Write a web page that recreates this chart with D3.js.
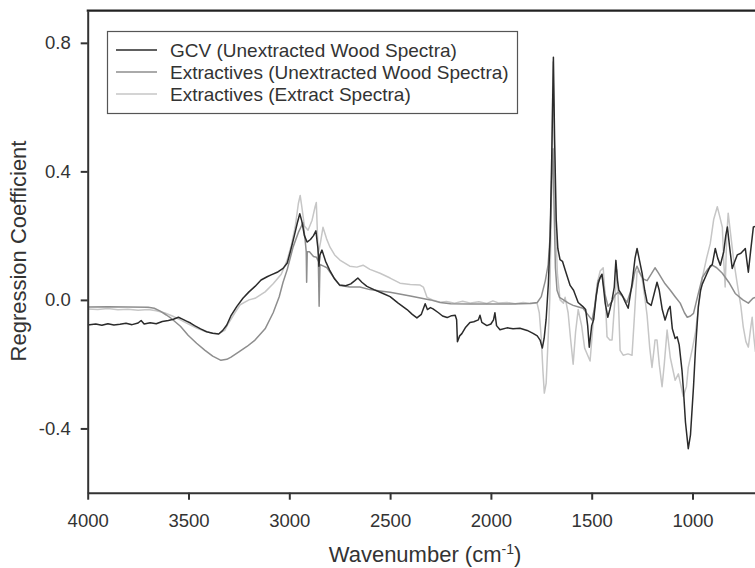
<!DOCTYPE html>
<html>
  <head>
    <meta charset="utf-8">
    <title>Regression coefficients</title>
    <script src="https://cdnjs.cloudflare.com/ajax/libs/d3/7.8.5/d3.min.js"></script>
    <style>
      body { margin: 0; background: #fff; }
      svg { display: block; font-family: "Liberation Sans", Arial, sans-serif; }
      .axis text { font-size: 18.5px; fill: #333; }
      .axis path, .axis line { stroke: #333; stroke-width: 2px; }
      .plot { fill: none; stroke-width: 1.5px; stroke-linejoin: round; }
      .gcv { stroke: #2b2b2b; }
      .wood { stroke: #8e8e8e; }
      .extract { stroke: #c6c6c6; }
      .title { font-size: 22px; fill: #333; }
      .legendText { font-size: 19px; fill: #333; }
    </style>
  </head>
  <body>
    <svg id="chart" width="755" height="568">
      <defs>
        <clipPath id="plotClip"><rect id="clipRect"></rect></clipPath>
      </defs>
      <g id="chartGroup" clip-path="url(#plotClip)"></g>
      <g id="axes">
        <line id="topBorder"></line>
        <g id="xAxisGroup" class="axis"></g>
        <g id="yAxisGroup" class="axis"></g>
      </g>
      <g id="legend"></g>
    </svg>
    <script>
      // series: [wavenumber, coefficient]
      var gcvData = [
        [4000,-0.078],[3960,-0.075],[3930,-0.079],[3900,-0.074],[3870,-0.078],[3840,-0.076],[3810,-0.073],[3780,-0.077],
        [3750,-0.072],[3735,-0.064],[3720,-0.075],[3690,-0.071],[3660,-0.074],[3630,-0.067],[3600,-0.064],[3575,-0.060],
        [3550,-0.054],[3530,-0.060],[3510,-0.066],[3490,-0.072],[3470,-0.080],[3440,-0.090],[3410,-0.099],[3380,-0.104],
        [3350,-0.106],[3330,-0.095],[3310,-0.078],[3290,-0.050],[3260,-0.020],[3230,0.005],[3200,0.025],[3170,0.042],
        [3140,0.062],[3110,0.072],[3090,0.078],[3060,0.086],[3031,0.098],[3010,0.115],[2995,0.150],[2975,0.200],
        [2960,0.240],[2948,0.268],[2938,0.245],[2925,0.200],[2912,0.180],[2895,0.188],[2880,0.200],[2868,0.215],
        [2858,0.160],[2853,0.105],[2848,0.140],[2838,0.155],[2820,0.120],[2800,0.093],[2775,0.065],[2750,0.046],
        [2720,0.044],[2695,0.050],[2675,0.060],[2660,0.068],[2640,0.055],[2615,0.042],[2580,0.032],[2535,0.020],
        [2500,0.010],[2460,-0.010],[2416,-0.030],[2390,-0.045],[2367,-0.056],[2345,-0.045],[2326,-0.012],[2315,-0.030],
        [2300,-0.024],[2287,-0.028],[2260,-0.040],[2240,-0.050],[2217,-0.055],[2195,-0.049],[2177,-0.048],[2170,-0.062],
        [2166,-0.130],[2155,-0.112],[2144,-0.105],[2125,-0.085],[2104,-0.070],[2085,-0.068],[2062,-0.062],[2054,-0.048],
        [2045,-0.070],[2020,-0.080],[2000,-0.075],[1987,-0.062],[1980,-0.040],[1972,-0.080],[1955,-0.093],[1920,-0.087],
        [1890,-0.090],[1856,-0.088],[1820,-0.095],[1791,-0.104],[1770,-0.112],[1756,-0.125],[1745,-0.150],[1736,-0.120],
        [1726,-0.060],[1715,0.050],[1706,0.200],[1698,0.450],[1690,0.755],[1684,0.500],[1676,0.250],[1668,0.160],
        [1657,0.125],[1645,0.120],[1630,0.090],[1607,0.045],[1590,0.030],[1567,-0.008],[1545,-0.020],[1530,-0.030],
        [1520,-0.080],[1512,-0.147],[1500,-0.080],[1490,-0.060],[1478,0.010],[1468,0.050],[1458,0.070],[1449,0.080],
        [1440,0.030],[1433,-0.010],[1420,-0.054],[1410,-0.030],[1399,0.000],[1388,0.040],[1380,0.123],[1372,0.060],
        [1365,0.030],[1349,0.015],[1335,-0.005],[1319,-0.026],[1300,0.050],[1285,0.130],[1275,0.160],[1262,0.120],
        [1250,0.083],[1237,0.030],[1225,-0.008],[1205,-0.017],[1190,0.020],[1176,0.055],[1165,0.030],[1150,-0.030],
        [1136,-0.063],[1120,-0.030],[1111,-0.020],[1100,-0.090],[1086,-0.120],[1076,-0.115],[1066,-0.140],[1052,-0.220],
        [1045,-0.280],[1035,-0.380],[1021,-0.463],[1010,-0.420],[995,-0.270],[985,-0.150],[971,-0.020],[960,0.030],
        [951,0.050],[930,0.080],[912,0.105],[902,0.110],[887,0.160],[875,0.130],[862,0.108],[845,0.150],
        [835,0.200],[827,0.227],[815,0.160],[803,0.098],[790,0.120],[778,0.140],[760,0.145],[745,0.155],
        [738,0.160],[730,0.120],[723,0.086],[712,0.150],[698,0.227],[680,0.230]
      ];
      var woodData = [
        [4000,-0.022],[3900,-0.021],[3800,-0.022],[3700,-0.023],[3670,-0.026],[3640,-0.035],[3610,-0.047],[3587,-0.057],
        [3540,-0.082],[3502,-0.110],[3460,-0.135],[3418,-0.157],[3380,-0.175],[3339,-0.188],[3310,-0.185],[3289,-0.178],
        [3250,-0.162],[3210,-0.145],[3170,-0.125],[3120,-0.090],[3080,-0.040],[3050,0.010],[3031,0.055],[3010,0.095],
        [2981,0.165],[2955,0.210],[2932,0.240],[2922,0.190],[2916,0.150],[2914,0.055],[2911,0.150],[2900,0.150],
        [2880,0.135],[2865,0.133],[2856,0.120],[2852,-0.020],[2848,0.110],[2830,0.105],[2813,0.100],[2780,0.070],
        [2749,0.045],[2700,0.040],[2650,0.040],[2600,0.032],[2550,0.028],[2500,0.024],[2400,0.012],[2300,0.000],
        [2252,-0.008],[2200,-0.012],[2100,-0.013],[2000,-0.013],[1900,-0.013],[1806,-0.011],[1770,-0.008],[1750,0.010],
        [1730,0.060],[1716,0.110],[1706,0.200],[1697,0.400],[1692,0.470],[1687,0.300],[1680,0.100],[1672,0.030],
        [1660,0.008],[1640,0.000],[1615,-0.010],[1592,-0.017],[1565,-0.022],[1543,-0.026],[1520,-0.045],[1498,-0.063],
        [1485,-0.020],[1468,0.060],[1449,0.077],[1435,0.020],[1419,-0.020],[1399,-0.005],[1385,0.015],[1369,0.024],
        [1345,0.010],[1325,-0.008],[1300,0.040],[1285,0.090],[1275,0.105],[1262,0.085],[1245,0.065],[1225,0.060],
        [1205,0.080],[1186,0.100],[1170,0.085],[1146,0.060],[1136,0.050],[1110,0.030],[1086,0.010],[1061,-0.010],
        [1040,-0.040],[1026,-0.054],[1010,-0.050],[995,-0.042],[975,0.010],[951,0.070],[925,0.095],[902,0.108],
        [880,0.100],[852,0.083],[820,0.055],[788,0.020],[750,0.000],[723,-0.010],[700,0.005],[680,0.010]
      ];
      var extractData = [
        [4000,-0.028],[3950,-0.030],[3900,-0.027],[3850,-0.031],[3800,-0.029],[3750,-0.032],[3700,-0.030],[3660,-0.034],
        [3620,-0.040],[3580,-0.050],[3540,-0.062],[3500,-0.075],[3460,-0.088],[3420,-0.098],[3380,-0.104],[3350,-0.105],
        [3320,-0.095],[3304,-0.075],[3270,-0.040],[3244,-0.015],[3200,0.000],[3170,0.005],[3120,0.025],[3080,0.050],
        [3040,0.080],[3011,0.123],[2990,0.170],[2971,0.226],[2955,0.300],[2946,0.325],[2938,0.290],[2925,0.230],
        [2907,0.217],[2887,0.248],[2872,0.290],[2866,0.303],[2860,0.200],[2856,0.145],[2845,0.180],[2833,0.226],
        [2815,0.190],[2798,0.164],[2775,0.140],[2749,0.124],[2700,0.105],[2665,0.102],[2634,0.108],[2600,0.095],
        [2550,0.083],[2500,0.068],[2451,0.052],[2400,0.048],[2351,0.046],[2335,0.040],[2317,0.008],[2290,0.000],
        [2252,-0.007],[2220,-0.005],[2180,-0.010],[2140,-0.004],[2100,-0.010],[2060,-0.006],[2020,-0.011],[1990,-0.003],
        [1960,-0.010],[1920,-0.008],[1880,-0.012],[1840,-0.008],[1800,-0.011],[1771,-0.010],[1760,-0.040],[1750,-0.120],
        [1742,-0.220],[1735,-0.290],[1726,-0.260],[1716,-0.120],[1708,0.000],[1700,0.300],[1692,0.740],[1686,0.500],
        [1680,0.250],[1670,0.080],[1657,0.000],[1640,-0.010],[1632,0.008],[1617,-0.040],[1605,-0.120],[1592,-0.200],
        [1580,-0.100],[1567,-0.030],[1550,-0.080],[1535,-0.150],[1508,-0.190],[1490,-0.050],[1473,0.050],[1458,0.090],
        [1443,0.100],[1432,0.000],[1424,-0.115],[1410,-0.125],[1399,-0.125],[1385,0.000],[1374,0.093],[1365,-0.050],
        [1359,-0.157],[1344,-0.172],[1320,-0.168],[1300,-0.172],[1288,-0.050],[1275,0.090],[1262,0.085],[1250,0.067],
        [1235,0.000],[1225,-0.050],[1212,-0.150],[1201,-0.210],[1190,-0.150],[1186,-0.125],[1176,-0.125],[1165,-0.200],
        [1151,-0.270],[1140,-0.200],[1126,-0.094],[1110,-0.180],[1086,-0.250],[1070,-0.230],[1046,-0.300],[1030,-0.270],
        [1021,-0.210],[1000,-0.150],[985,-0.100],[970,-0.020],[951,0.070],[930,0.130],[912,0.175],[895,0.250],
        [877,0.290],[865,0.260],[852,0.226],[845,0.120],[838,0.040],[830,0.200],[823,0.270],[810,0.200],
        [795,0.120],[778,0.050],[760,-0.020],[748,-0.085],[735,-0.130],[723,-0.147],[712,-0.090],[704,-0.054],
        [695,-0.120],[688,-0.160],[680,-0.150]
      ];
      var xTicks = [4000, 3500, 3000, 2500, 2000, 1500, 1000];
      var yTicks = [-0.4, 0.0, 0.4, 0.8];
      var seriesNames = [
        "GCV (Unextracted Wood Spectra)",
        "Extractives (Unextracted Wood Spectra)",
        "Extractives (Extract Spectra)"
      ];

      // page elements
      var margin = { top: 10.7, left: 87.7, bottom: 75.3 };
      var height = 568;
      var chart = d3.select("#chart");
      var chartGroup = d3.select("#chartGroup");

      // scales: the plot runs past the right edge of the picture
      var x = d3.scaleLinear()
        .domain([4000, 500])
        .range([margin.left, margin.left + 3500 * 0.2016]);
      var y = d3.scaleLinear()
        .domain([-0.6, 0.9])
        .range([height - margin.bottom, margin.top]);

      d3.select("#clipRect")
        .attr("x", margin.left)
        .attr("y", margin.top)
        .attr("width", x(500) - margin.left)
        .attr("height", y(-0.6) - margin.top);

      // axes
      var xAxis = d3.axisBottom(x)
        .tickValues(xTicks)
        .tickSizeOuter(0)
        .tickSizeInner(7)
        .tickPadding(14)
        .tickFormat(d3.format("d"));
      var yAxis = d3.axisLeft(y)
        .tickValues(yTicks)
        .tickSizeOuter(0)
        .tickSizeInner(7)
        .tickPadding(10)
        .tickFormat(function(d) { return d3.format(".1f")(d).replace("−", "-"); });

      d3.select("#xAxisGroup")
        .attr("transform", "translate(0," + y(-0.6) + ")")
        .call(xAxis)
        .call(function(g) { g.selectAll("text").attr("fill", "#333"); });
      d3.select("#yAxisGroup")
        .attr("transform", "translate(" + margin.left + ",0)")
        .call(yAxis)
        .call(function(g) { g.selectAll("text").attr("fill", "#333"); });

      d3.select("#topBorder")
        .attr("x1", margin.left - 1)
        .attr("x2", x(500))
        .attr("y1", y(0.9))
        .attr("y2", y(0.9))
        .attr("stroke", "#222")
        .attr("stroke-width", 2.2);

      // lines, lightest first
      var line = d3.line()
        .x(function(d) { return x(d[0]); })
        .y(function(d) { return y(d[1]); });

      chartGroup.append("path")
        .attr("class", "plot extract")
        .attr("d", line(extractData));
      chartGroup.append("path")
        .attr("class", "plot wood")
        .attr("d", line(woodData));
      chartGroup.append("path")
        .attr("class", "plot gcv")
        .attr("d", line(gcvData));

      // axis titles
      var xTitle = chart.append("text")
        .attr("class", "title")
        .attr("x", 425)
        .attr("y", 562)
        .attr("text-anchor", "middle");
      xTitle.append("tspan").text("Wavenumber (cm");
      xTitle.append("tspan").attr("dy", -8).attr("font-size", "14px").text("-1");
      xTitle.append("tspan").attr("dy", 8).text(")");

      chart.append("text")
        .attr("class", "title")
        .attr("transform", "translate(26,251) rotate(-90)")
        .attr("text-anchor", "middle")
        .text("Regression Coefficient");

      // legend
      var legend = d3.select("#legend");
      legend.append("rect")
        .attr("x", 107.5)
        .attr("y", 31.5)
        .attr("width", 410)
        .attr("height", 82)
        .attr("fill", "#fff")
        .attr("stroke", "#555")
        .attr("stroke-width", 1.2);
      var legendClasses = ["gcv", "wood", "extract"];
      var rows = legend.selectAll(".row")
        .data(seriesNames)
        .enter().append("g")
          .attr("class", "row")
          .attr("transform", function(d, i) { return "translate(0," + (50 + i * 22) + ")"; });
      rows.append("line")
        .attr("class", function(d, i) { return "plot " + legendClasses[i]; })
        .attr("x1", 116)
        .attr("x2", 157)
        .attr("y1", 0)
        .attr("y2", 0);
      rows.append("text")
        .attr("class", "legendText")
        .attr("x", 170)
        .attr("y", 0)
        .attr("dy", "0.35em")
        .text(function(d) { return d; });
    </script>
  </body>
</html>
